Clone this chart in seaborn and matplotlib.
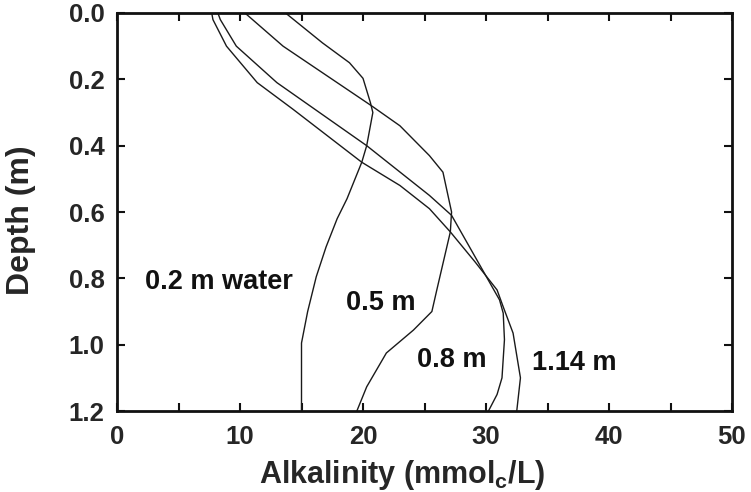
import matplotlib
matplotlib.use("Agg")
import matplotlib.pyplot as plt
import seaborn as sns
import pandas as pd
from matplotlib.ticker import MultipleLocator, FormatStrFormatter

# Alkalinity profiles (mmol_c/L) versus depth (m) for four ponding depths
depth_02 = [0.0, 0.09, 0.15, 0.197, 0.27, 0.30, 0.40, 0.45, 0.56, 0.62, 0.705, 0.795, 0.90, 0.995, 1.2]
alk_02 = [13.7, 16.7, 18.9, 20.0, 20.6, 20.8, 20.3, 19.9, 18.7, 17.9, 17.0, 16.2, 15.5, 15.0, 15.0]

depth_05 = [0.0, 0.10, 0.28, 0.34, 0.40, 0.43, 0.48, 0.60, 0.66, 0.835, 0.90, 0.956, 1.025, 1.127, 1.2]
alk_05 = [10.4, 13.5, 20.7, 23.0, 24.6, 25.4, 26.5, 27.2, 27.1, 26.0, 25.6, 24.1, 21.9, 20.3, 19.5]

depth_08 = [0.0, 0.02, 0.10, 0.21, 0.40, 0.55, 0.61, 0.865, 0.905, 0.985, 1.10, 1.15, 1.2]
alk_08 = [8.2, 8.4, 9.7, 13.0, 20.3, 25.4, 27.2, 31.1, 31.4, 31.5, 31.3, 30.9, 30.2]

depth_114 = [0.0, 0.02, 0.10, 0.21, 0.29, 0.45, 0.52, 0.59, 0.66, 0.75, 0.835, 0.886, 0.965, 1.10, 1.2]
alk_114 = [7.7, 7.8, 8.9, 11.4, 14.3, 19.9, 23.0, 25.4, 27.1, 29.1, 30.9, 31.4, 32.2, 32.8, 32.5]

series_labels = ["0.2 m water", "0.5 m", "0.8 m", "1.14 m"]
label_pos = [(2.3, 0.81), (18.6, 0.875), (24.4, 1.045), (33.7, 1.055)]

sns.set_theme(style="ticks")
plt.rcParams["font.family"] = ["Liberation Sans", "DejaVu Sans"]
plt.rcParams["font.weight"] = "bold"
plt.rcParams["mathtext.fontset"] = "custom"
plt.rcParams["mathtext.rm"] = "Liberation Sans:bold"
plt.rcParams["mathtext.it"] = "Liberation Sans:bold"
plt.rcParams["mathtext.bf"] = "Liberation Sans:bold"

fig = plt.figure(figsize=(7.51, 4.92), dpi=100)
ax = fig.add_axes([0.1558, 0.1646, 0.8189, 0.809])

profiles = [(alk_02, depth_02), (alk_05, depth_05), (alk_08, depth_08), (alk_114, depth_114)]
for name, (alk, dep) in zip(series_labels, profiles):
    df = pd.DataFrame({"alk": alk, "depth": dep})
    sns.lineplot(data=df, x="alk", y="depth", sort=False, estimator=None,
                 color="#1a1a1a", linewidth=1.0, ax=ax)

for name, (lx, ly) in zip(series_labels, label_pos):
    ax.text(lx, ly, name, fontsize=19.5, fontweight="bold", ha="left", va="center",
            color="#111111")

ax.set_xlim(0, 50)
ax.set_ylim(1.2, 0.0)
ax.xaxis.set_major_locator(MultipleLocator(10))
ax.xaxis.set_minor_locator(MultipleLocator(5))
ax.yaxis.set_major_locator(MultipleLocator(0.2))
ax.yaxis.set_major_formatter(FormatStrFormatter("%.1f"))

ax.tick_params(axis="both", which="both", direction="in", top=True, right=True,
               color="#111111", width=1.5)
ax.tick_params(axis="both", which="major", length=6, labelsize=18.5)
ax.tick_params(axis="x", which="major", pad=10)
ax.tick_params(axis="y", which="major", pad=9)
ax.tick_params(axis="x", which="minor", length=6)
for lab in ax.get_xticklabels() + ax.get_yticklabels():
    lab.set_fontweight("bold")

for sp in ax.spines.values():
    sp.set_linewidth(2.0)
    sp.set_color("#111111")

ax.set_xlabel(r"Alkalinity (mmol$_\mathregular{c}$/L)", fontsize=22, fontweight="bold")
ax.set_ylabel("Depth (m)", fontsize=23, fontweight="bold")
ax.xaxis.set_label_coords(0.463, -0.118)
ax.yaxis.set_label_coords(-0.132, 0.48)

fig.savefig("out.png", dpi=100, facecolor="white")
